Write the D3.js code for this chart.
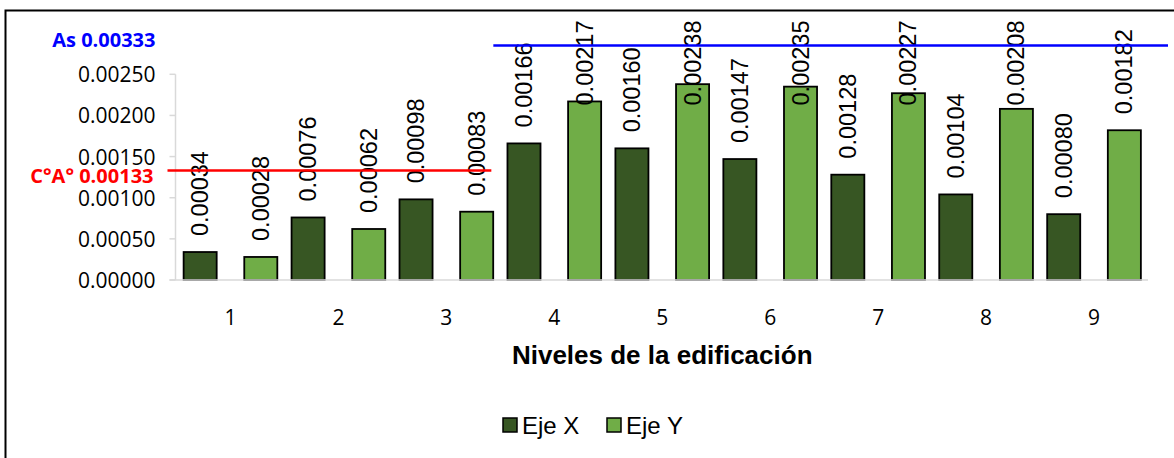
<!DOCTYPE html>
<html>
<head>
<meta charset="utf-8">
<script src="https://cdn.jsdelivr.net/npm/d3@7"></script>
<style>
  html, body { margin: 0; padding: 0; background: #fff; }
  svg { display: block; }
</style>
</head>
<body>
<svg id="chart" width="1174" height="458"></svg>
<script>
// Niveles de la edificación (1..9) with drift values per direction
const categories = ["1", "2", "3", "4", "5", "6", "7", "8", "9"];
const seriesNames = ["Eje X", "Eje Y"];
const ejeX = [0.00034, 0.00076, 0.00098, 0.00166, 0.00160, 0.00147, 0.00128, 0.00104, 0.00080];
const ejeY = [0.00028, 0.00062, 0.00083, 0.00217, 0.00238, 0.00235, 0.00227, 0.00208, 0.00182];
const yTicks = [0, 0.0005, 0.0010, 0.0015, 0.0020, 0.0025];

// Reference limits
const limitCA = { label: "C°A° 0.00133", value: 0.00133 };
const limitAs = { label: "As 0.00333", value: 0.00333 };

const colors = { "Eje X": "#375623", "Eje Y": "#70AD47" };

const svg = d3.select("#chart");
const W = 1174, H = 458;

// chart frame
svg.append("rect")
  .attr("x", 5.5).attr("y", 10.5)
  .attr("width", W + 20).attr("height", H + 20)
  .attr("fill", "#fff").attr("stroke", "#000").attr("stroke-width", 2);

const plot = { left: 176.5, right: 1148, bottom: 280, top: 45.5 };

const x0 = d3.scaleBand().domain(categories).range([plot.left, plot.right])
  .paddingInner(0).paddingOuter(0);
const x1 = d3.scaleBand().domain(seriesNames).range([0, x0.bandwidth()])
  .paddingInner(0.455).paddingOuter(0.1175);
// values above the top of the value range are pinned to the top edge
const y = d3.scaleLinear().domain([0, 0.00285]).range([plot.bottom, plot.top]).clamp(true);

const data = categories.map((c, i) => ({
  cat: c,
  vals: [{ s: "Eje X", v: ejeX[i] }, { s: "Eje Y", v: ejeY[i] }]
}));

// value axis: ticks and gray spine
const axisX = plot.left - 1;
const yAxisG = svg.append("g");
yAxisG.append("line")
  .attr("x1", axisX).attr("x2", axisX)
  .attr("y1", y(0)).attr("y2", y(d3.max(yTicks)))
  .attr("stroke", "#D9D9D9").attr("stroke-width", 1.5);
yTicks.forEach(t => {
  yAxisG.append("line")
    .attr("x1", axisX - 6).attr("x2", axisX)
    .attr("y1", y(t)).attr("y2", y(t))
    .attr("stroke", "#D9D9D9").attr("stroke-width", 1.5);
  yAxisG.append("text")
    .attr("x", axisX - 20).attr("y", y(t))
    .attr("text-anchor", "end").attr("dominant-baseline", "central")
    .attr("font-family", "'Open Sans', 'Noto Sans', sans-serif")
    .attr("font-size", 21).attr("fill", "#000")
    .text(d3.format(".5f")(t));
});

// bars
const groups = svg.append("g").selectAll("g").data(data).join("g")
  .attr("transform", d => `translate(${x0(d.cat)},0)`);

groups.selectAll("rect").data(d => d.vals).join("rect")
  .attr("x", d => x1(d.s))
  .attr("y", d => y(d.v))
  .attr("width", x1.bandwidth())
  .attr("height", d => y(0) - y(d.v))
  .attr("fill", d => colors[d.s])
  .attr("stroke", "#000").attr("stroke-width", 1.8);

// category axis line
svg.append("line")
  .attr("x1", axisX - 6).attr("x2", plot.right)
  .attr("y1", y(0)).attr("y2", y(0))
  .attr("stroke", "#D9D9D9").attr("stroke-width", 1.5);

// value labels, rotated, kept inside the top of the chart
const labelTop = plot.top - 25;
groups.selectAll("text.val").data(d => d.vals).join("text")
  .attr("class", "val")
  .attr("font-family", "'Liberation Sans', Arial, sans-serif")
  .attr("font-size", 23.5).attr("fill", "#000")
  .attr("text-anchor", "start")
  .attr("dominant-baseline", "central")
  .text(d => d3.format(".5f")(d.v))
  .each(function (d) {
    const len = this.getComputedTextLength();
    const cx = x1(d.s) + x1.bandwidth() / 2;
    const base = Math.max(y(d.v) - 16, labelTop + len);
    d3.select(this).attr("transform", `translate(${cx},${base}) rotate(-90)`);
  });

// category labels
svg.append("g").selectAll("text").data(categories).join("text")
  .attr("x", d => x0(d) + x0.bandwidth() / 2)
  .attr("y", 317)
  .attr("text-anchor", "middle").attr("dominant-baseline", "central")
  .attr("font-family", "'Open Sans', 'Noto Sans', sans-serif")
  .attr("font-size", 21).attr("fill", "#000")
  .text(d => d);

// axis title
svg.append("text")
  .attr("x", (plot.left + plot.right) / 2).attr("y", 355)
  .attr("text-anchor", "middle").attr("dominant-baseline", "central")
  .attr("font-family", "'Liberation Sans', Arial, sans-serif")
  .attr("font-weight", "bold").attr("font-size", 26).attr("fill", "#000")
  .text("Niveles de la edificación");

// limit lines
const yCA = y(limitCA.value);
svg.append("line")
  .attr("x1", axisX - 8).attr("x2", x0("4") - 9)
  .attr("y1", yCA).attr("y2", yCA)
  .attr("stroke", "#FF0000").attr("stroke-width", 2.5);
svg.append("text")
  .attr("x", axisX - 22).attr("y", yCA + 5)
  .attr("text-anchor", "end").attr("dominant-baseline", "central")
  .attr("font-family", "'Open Sans', 'Noto Sans', sans-serif")
  .attr("font-weight", "bold").attr("font-size", 20).attr("fill", "#FF0000")
  .text(limitCA.label);

const yAs = y(limitAs.value);
svg.append("line")
  .attr("x1", x0("4") - 7).attr("x2", plot.right + 20)
  .attr("y1", yAs).attr("y2", yAs)
  .attr("stroke", "#0000FF").attr("stroke-width", 2.5);
svg.append("text")
  .attr("x", axisX - 20).attr("y", yAs - 6.5)
  .attr("text-anchor", "end").attr("dominant-baseline", "central")
  .attr("font-family", "'Open Sans', 'Noto Sans', sans-serif")
  .attr("font-weight", "bold").attr("font-size", 20).attr("fill", "#0000FF")
  .text(limitAs.label);

// legend
const legend = svg.append("g");
const legendX = [503, 607];
seriesNames.forEach((s, i) => {
  const g = legend.append("g").attr("transform", `translate(${legendX[i]},418)`);
  g.append("rect").attr("width", 14).attr("height", 14)
    .attr("fill", colors[s]).attr("stroke", "#000").attr("stroke-width", 1.5);
  g.append("text").attr("x", 19).attr("y", 7.5)
    .attr("dominant-baseline", "central")
    .attr("font-family", "'Liberation Sans', Arial, sans-serif")
    .attr("font-size", 24).attr("fill", "#000")
    .text(s);
});
</script>
</body>
</html>
